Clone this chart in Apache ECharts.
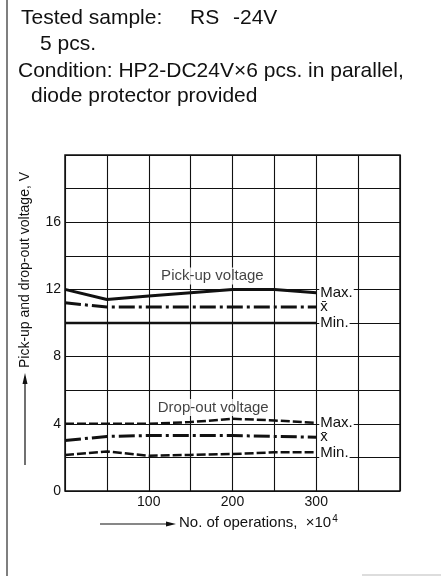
<!DOCTYPE html>
<html>
<head>
<meta charset="utf-8">
<script src="https://cdn.jsdelivr.net/npm/echarts@6/dist/echarts.min.js"></script>
<style>
  html, body { margin: 0; padding: 0; background: #fff; }
  #chart { width: 441px; height: 576px; }
</style>
</head>
<body>
<div id="chart"></div>
<script>
// Number of operations (x10^4) at which the voltages were measured
const operations = [0, 50, 100, 150, 200, 250, 300];

// Pick-up voltage, V
const pickUpMax  = [12.0, 11.4, 11.6, 11.8, 12.0, 12.0, 11.8];
const pickUpMean = [11.2, 10.95, 10.95, 10.95, 10.95, 10.95, 10.95];
const pickUpMin  = [10.0, 10.0, 10.0, 10.0, 10.0, 10.0, 10.0];

// Drop-out voltage, V
const dropOutMax  = [4.0, 4.0, 4.0, 4.1, 4.3, 4.2, 4.05];
const dropOutMean = [3.0, 3.25, 3.3, 3.3, 3.3, 3.25, 3.2];
const dropOutMin  = [2.15, 2.35, 2.1, 2.15, 2.2, 2.3, 2.3];

// Axis tick labels that are printed
const xTickLabels = [100, 200, 300];
const yTickLabels = [0, 4, 8, 12, 16];

const FONT = '"Liberation Sans", Arial, Helvetica, sans-serif';
const INK = '#111';

const DASH_DOT = [16, 4, 3, 4];
const DASHED = [9, 3];

function pairs(values) {
  return operations.map((x, i) => [x, values[i]]);
}

function curve(name, values, width, type, endText) {
  return {
    name: name,
    type: 'line',
    data: pairs(values),
    symbol: 'none',
    smooth: false,
    silent: true,
    lineStyle: { color: INK, width: width, type: type },
    endLabel: {
      show: true,
      formatter: endText,
      distance: 3,
      color: INK,
      fontFamily: FONT,
      fontSize: 15,
      backgroundColor: '#fff',
      padding: [0, 1, 0, 1],
      lineHeight: 14
    },
    z: 3
  };
}

// caption placed in data coordinates, boxed in white so grid lines stop at it
function caption(text, x, y) {
  return {
    name: text,
    type: 'scatter',
    data: [[x, y]],
    symbol: 'rect',
    symbolSize: 1,
    silent: true,
    itemStyle: { color: 'transparent' },
    label: {
      show: true,
      position: 'inside',
      formatter: text,
      color: INK,
      fontFamily: FONT,
      fontSize: 15,
      backgroundColor: '#fff',
      padding: [1, 3, 1, 3]
    },
    z: 4
  };
}

const chart = echarts.init(document.getElementById('chart'), null, { renderer: 'canvas' });

chart.setOption({
  animation: false,
  backgroundColor: '#fff',
  grid: {
    left: 65, right: 41, top: 155, bottom: 85,
    show: true, borderColor: INK, borderWidth: 1.5, backgroundColor: 'transparent'
  },
  xAxis: {
    type: 'value',
    min: 0, max: 400, interval: 50,
    axisLine: { show: false },
    axisTick: { show: false },
    splitLine: { show: true, lineStyle: { color: INK, width: 1.1 } },
    axisLabel: {
      margin: 4,
      color: INK,
      fontFamily: FONT,
      fontSize: 14,
      formatter: v => (xTickLabels.indexOf(v) >= 0 ? String(v) : '')
    }
  },
  yAxis: {
    type: 'value',
    min: 0, max: 20, interval: 2,
    axisLine: { show: false },
    axisTick: { show: false },
    splitLine: { show: true, lineStyle: { color: INK, width: 1.1 } },
    axisLabel: {
      margin: 4,
      color: INK,
      fontFamily: FONT,
      fontSize: 14,
      formatter: v => (yTickLabels.indexOf(v) >= 0 ? String(v) : '')
    }
  },
  series: [
    curve('Pick-up max', pickUpMax, 3, 'solid', 'Max.'),
    curve('Pick-up mean', pickUpMean, 3, DASH_DOT, 'x\u0304'),
    curve('Pick-up min', pickUpMin, 2.5, 'solid', 'Min.'),
    curve('Drop-out max', dropOutMax, 2.5, DASHED, 'Max.'),
    curve('Drop-out mean', dropOutMean, 3, DASH_DOT, 'x\u0304'),
    curve('Drop-out min', dropOutMin, 2.5, DASHED, 'Min.'),
    caption('Pick-up voltage', 176, 12.8),
    caption('Drop-out voltage', 177, 4.97)
  ],
  graphic: [
    // page frame at the left edge
    { type: 'line', shape: { x1: 7, y1: 0, x2: 7, y2: 576 }, style: { stroke: '#555', lineWidth: 1.5 } },
    { type: 'line', shape: { x1: 362, y1: 575, x2: 441, y2: 575 }, style: { stroke: '#ddd', lineWidth: 2 } },

    // test conditions
    { type: 'text', left: 21, top: 8, style: { text: 'Tested sample:', font: '21px ' + FONT, fill: INK } },
    { type: 'text', left: 190, top: 8, style: { text: 'RS', font: '21px ' + FONT, fill: INK } },
    { type: 'text', left: 233, top: 8, style: { text: '-24V', font: '21px ' + FONT, fill: INK } },
    { type: 'text', left: 40, top: 34, style: { text: '5 pcs.', font: '21px ' + FONT, fill: INK } },
    { type: 'text', left: 18, top: 61, style: { text: 'Condition: HP2-DC24V\u00d76 pcs. in parallel,', font: '21px ' + FONT, fill: INK } },
    { type: 'text', left: 31, top: 86, style: { text: 'diode protector provided', font: '21px ' + FONT, fill: INK } },

    // y-axis title with upward arrow
    {
      type: 'text', x: 25, y: 270, rotation: Math.PI / 2,
      style: { text: 'Pick-up and drop-out voltage, V', font: '14px ' + FONT, fill: INK, align: 'center', verticalAlign: 'middle' }
    },
    { type: 'line', shape: { x1: 25, y1: 465, x2: 25, y2: 382 }, style: { stroke: INK, lineWidth: 1.2 } },
    { type: 'polygon', shape: { points: [[25, 373], [22.5, 384], [27.5, 384]] }, style: { fill: INK } },

    // x-axis title with rightward arrow
    { type: 'line', shape: { x1: 100, y1: 524, x2: 168, y2: 524 }, style: { stroke: INK, lineWidth: 1.2 } },
    { type: 'polygon', shape: { points: [[176, 524], [166, 521.5], [166, 526.5]] }, style: { fill: INK } },
    {
      type: 'text', left: 179, top: 514,
      style: {
        text: '{a|No. of operations,  \u00d710}{s|4}',
        rich: {
          a: { font: '15px ' + FONT, fill: INK, lineHeight: 18 },
          s: { font: '10px ' + FONT, fill: INK, verticalAlign: 'top', lineHeight: 18, padding: [0, 0, 8, 1] }
        }
      }
    }
  ]
});
</script>
</body>
</html>
